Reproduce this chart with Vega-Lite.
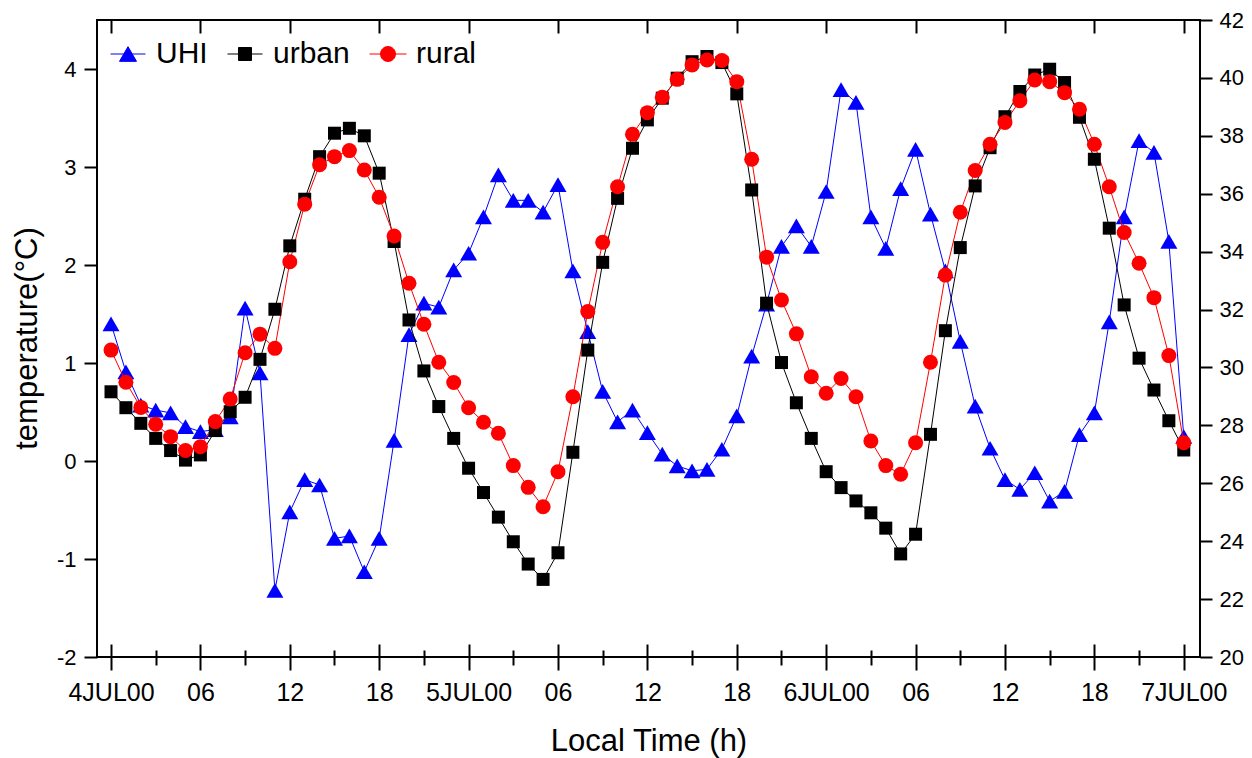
{
  "$schema": "https://vega.github.io/schema/vega-lite/v6.json",
  "width": 1103,
  "height": 637,
  "autosize": {"type": "none"},
  "padding": {"left": 97, "top": 20, "right": 52, "bottom": 101},
  "background": "white",
  "config": {
    "view": {"stroke": "black", "strokeWidth": 2},
    "font": "Liberation Sans",
    "axis": {"grid": false, "domain": false, "tickColor": "black", "tickWidth": 2, "labelColor": "black", "titleColor": "black", "titleFontWeight": "normal", "labelFont": "Liberation Sans", "titleFont": "Liberation Sans"}
  },
  "datasets": {"d": [
    {"h":0,"UHI":1.40,"urban":29.16,"rural":30.60},
    {"h":1,"UHI":0.91,"urban":28.61,"rural":29.49},
    {"h":2,"UHI":0.57,"urban":28.07,"rural":28.62},
    {"h":3,"UHI":0.52,"urban":27.55,"rural":28.04},
    {"h":4,"UHI":0.49,"urban":27.13,"rural":27.61},
    {"h":5,"UHI":0.35,"urban":26.80,"rural":27.13},
    {"h":6,"UHI":0.30,"urban":26.98,"rural":27.26},
    {"h":7,"UHI":0.32,"urban":27.82,"rural":28.13},
    {"h":8,"UHI":0.45,"urban":28.47,"rural":28.91},
    {"h":9,"UHI":1.56,"urban":28.97,"rural":30.51},
    {"h":10,"UHI":0.90,"urban":30.28,"rural":31.15},
    {"h":11,"UHI":-1.32,"urban":32.01,"rural":30.66},
    {"h":12,"UHI":-0.52,"urban":34.20,"rural":33.65},
    {"h":13,"UHI":-0.19,"urban":35.81,"rural":35.64},
    {"h":14,"UHI":-0.245,"urban":37.28,"rural":37.00},
    {"h":15,"UHI":-0.79,"urban":38.09,"rural":37.28},
    {"h":16,"UHI":-0.765,"urban":38.26,"rural":37.49},
    {"h":17,"UHI":-1.13,"urban":38.00,"rural":36.82},
    {"h":18,"UHI":-0.79,"urban":36.71,"rural":35.88},
    {"h":19,"UHI":0.21,"urban":34.35,"rural":34.54},
    {"h":20,"UHI":1.29,"urban":31.64,"rural":32.91},
    {"h":21,"UHI":1.61,"urban":29.88,"rural":31.49},
    {"h":22,"UHI":1.57,"urban":28.65,"rural":30.18},
    {"h":23,"UHI":1.95,"urban":27.55,"rural":29.48},
    {"h":24,"UHI":2.12,"urban":26.52,"rural":28.61},
    {"h":25,"UHI":2.49,"urban":25.68,"rural":28.11},
    {"h":26,"UHI":2.92,"urban":24.83,"rural":27.73},
    {"h":27,"UHI":2.66,"urban":23.98,"rural":26.61},
    {"h":28,"UHI":2.66,"urban":23.21,"rural":25.86},
    {"h":29,"UHI":2.54,"urban":22.68,"rural":25.19},
    {"h":30,"UHI":2.82,"urban":23.60,"rural":26.40},
    {"h":31,"UHI":1.94,"urban":27.07,"rural":28.99},
    {"h":32,"UHI":1.32,"urban":30.60,"rural":31.93},
    {"h":33,"UHI":0.71,"urban":33.63,"rural":34.32},
    {"h":34,"UHI":0.40,"urban":35.84,"rural":36.24},
    {"h":35,"UHI":0.52,"urban":37.57,"rural":38.05},
    {"h":36,"UHI":0.29,"urban":38.55,"rural":38.80},
    {"h":37,"UHI":0.07,"urban":39.30,"rural":39.33},
    {"h":38,"UHI":-0.05,"urban":39.99,"rural":39.95},
    {"h":39,"UHI":-0.10,"urban":40.56,"rural":40.45},
    {"h":40,"UHI":-0.085,"urban":40.74,"rural":40.62},
    {"h":41,"UHI":0.12,"urban":40.53,"rural":40.60},
    {"h":42,"UHI":0.46,"urban":39.45,"rural":39.87},
    {"h":43,"UHI":1.07,"urban":36.13,"rural":37.19},
    {"h":44,"UHI":1.60,"urban":32.22,"rural":33.81},
    {"h":45,"UHI":2.19,"urban":30.17,"rural":32.33},
    {"h":46,"UHI":2.40,"urban":28.78,"rural":31.16},
    {"h":47,"UHI":2.19,"urban":27.55,"rural":29.68},
    {"h":48,"UHI":2.75,"urban":26.40,"rural":29.11},
    {"h":49,"UHI":3.79,"urban":25.85,"rural":29.62},
    {"h":50,"UHI":3.66,"urban":25.39,"rural":28.99},
    {"h":51,"UHI":2.49,"urban":24.98,"rural":27.46},
    {"h":52,"UHI":2.17,"urban":24.45,"rural":26.61},
    {"h":53,"UHI":2.78,"urban":23.56,"rural":26.31},
    {"h":54,"UHI":3.18,"urban":24.24,"rural":27.40},
    {"h":55,"UHI":2.52,"urban":27.69,"rural":30.18},
    {"h":56,"UHI":1.94,"urban":31.27,"rural":33.19},
    {"h":57,"UHI":1.22,"urban":34.14,"rural":35.36},
    {"h":58,"UHI":0.56,"urban":36.27,"rural":36.80},
    {"h":59,"UHI":0.13,"urban":37.59,"rural":37.71},
    {"h":60,"UHI":-0.19,"urban":38.66,"rural":38.46},
    {"h":61,"UHI":-0.29,"urban":39.53,"rural":39.21},
    {"h":62,"UHI":-0.12,"urban":40.10,"rural":39.93},
    {"h":63,"UHI":-0.41,"urban":40.30,"rural":39.87},
    {"h":64,"UHI":-0.31,"urban":39.84,"rural":39.49},
    {"h":65,"UHI":0.27,"urban":38.64,"rural":38.92},
    {"h":66,"UHI":0.49,"urban":37.19,"rural":37.71},
    {"h":67,"UHI":1.42,"urban":34.81,"rural":36.24},
    {"h":68,"UHI":2.49,"urban":32.16,"rural":34.66},
    {"h":69,"UHI":3.27,"urban":30.32,"rural":33.60},
    {"h":70,"UHI":3.15,"urban":29.22,"rural":32.41},
    {"h":71,"UHI":2.24,"urban":28.16,"rural":30.41},
    {"h":72,"UHI":0.25,"urban":27.15,"rural":27.40}
  ]},
  "data": {"name": "d"},
  "resolve": {"scale": {"y": "independent"}},
  "layer": [
    {
      "transform": [{"fold": ["UHI", "urban", "rural"], "as": ["series", "v"]}, {"filter": "datum.h === 0"}],
      "mark": {"type": "point", "filled": true, "opacity": 0},
      "encoding": {
        "x": {"field": "h", "type": "quantitative",
          "scale": {"domain": [-0.94, 73.09], "nice": false, "zero": false},
          "axis": {
            "orient": "top",
            "values": [0,6,12,18,24,30,36,42,48,54,60,66,72],
            "labels": false, "ticks": false, "domain": false, "title": null,
            "grid": true, "gridColor": "black", "gridWidth": 2, "gridDash": [13, 2000], "gridOpacity": 1
          }},
        "y": {"field": "v", "type": "quantitative",
          "scale": {"domain": [20, 42], "nice": false, "zero": false}, "axis": null},
        "color": {"field": "series", "type": "nominal",
          "scale": {"domain": ["UHI", "urban", "rural"], "range": ["#0000ff", "#000000", "#ff0000"]},
          "legend": {
            "orient": "none", "legendX": 16, "legendY": 19, "direction": "horizontal", "gridAlign": "none",
            "title": null, "padding": 0, "labelFontSize": 30, "labelFont": "Liberation Sans", "labelColor": "black",
            "labelOffset": 13, "columnPadding": 17, "symbolSize": 100, "symbolStrokeWidth": 1, "symbolOpacity": 1
          }},
        "stroke": {"field": "series", "type": "nominal",
          "scale": {"domain": ["UHI", "urban", "rural"], "range": ["#0000ff", "#000000", "#ff0000"]},
          "legend": {
            "orient": "none", "legendX": 16, "legendY": 19, "direction": "horizontal", "gridAlign": "none",
            "title": null, "padding": 0, "labelFontSize": 30, "labelFont": "Liberation Sans", "labelColor": "black",
            "labelOffset": 13, "columnPadding": 17, "symbolSize": 100, "symbolStrokeWidth": 1, "symbolOpacity": 1
          }},
        "shape": {"field": "series", "type": "nominal",
          "scale": {"domain": ["UHI", "urban", "rural"], "range": [
            "M-3.5,0H3.5M0,-1.47L1.7,1.47L-1.7,1.47Z",
            "M-3.5,0H3.5M-1.3,-1.3H1.3V1.3H-1.3Z",
            "M-3.7,0H3.7M1.5,0A1.5,1.5,0,1,1,-1.5,0A1.5,1.5,0,1,1,1.5,0Z"
          ]},
          "legend": {
            "orient": "none", "legendX": 16, "legendY": 19, "direction": "horizontal", "gridAlign": "none",
            "title": null, "padding": 0, "labelFontSize": 30, "labelFont": "Liberation Sans", "labelColor": "black",
            "labelOffset": 13, "columnPadding": 17, "symbolSize": 100, "symbolStrokeWidth": 1, "symbolOpacity": 1
          }}
      }
    },
    {
      "transform": [{"fold": ["UHI"], "as": ["series", "v"]}],
      "mark": {"type": "line", "color": "#0000ff", "strokeWidth": 1},
      "encoding": {
        "x": {"field": "h", "type": "quantitative",
          "axis": {
            "orient": "bottom",
            "values": [0,6,12,18,24,30,36,42,48,54,60,66,72],
            "labelExpr": "datum.value % 24 === 0 ? (4 + datum.value / 24) + 'JUL00' : (((datum.value % 24) < 10 ? '0' : '') + (datum.value % 24))",
            "labelFontSize": 25,
            "labelPadding": 10,
            "labelFlush": false,
            "labelOverlap": false,
            "labelBound": false,
            "tickSize": 13,
            "title": "Local Time (h)",
            "titleFontSize": 31,
            "titleBaseline": "alphabetic",
            "titleY": 93
          }},
        "y": {"field": "v", "type": "quantitative",
          "scale": {"domain": [-2, 4.5], "nice": false, "zero": false},
          "axis": {
            "orient": "left",
            "values": [-2,-1,0,1,2,3,4],
            "labelExpr": "'' + datum.value",
            "labelFontSize": 22,
            "labelPadding": 8,
            "tickSize": 13,
            "labelFlush": false,
            "title": "temperature(°C)",
            "titleFontSize": 31,
            "titleAngle": 270,
            "titleBaseline": "alphabetic",
            "titleX": -61,
            "titleY": 318
          }}
      }
    },
    {
      "transform": [{"fold": ["UHI"], "as": ["series", "v"]}],
      "mark": {"type": "point", "shape": "triangle-up", "size": 289, "filled": true, "opacity": 1, "strokeWidth": 0},
      "encoding": {
        "x": {"field": "h", "type": "quantitative",
          "axis": {
            "orient": "top",
            "values": [0,6,12,18,24,30,36,42,48,54,60,66,72],
            "labels": false,
            "offset": -13,
            "tickSize": 13,
            "title": null
          }},
        "y": {"field": "v", "type": "quantitative",
          "scale": {"domain": [-2, 4.5], "nice": false, "zero": false}, "axis": null},
        "color": {"field": "series", "type": "nominal", "legend": null}
      }
    },
    {
      "transform": [{"fold": ["urban", "rural"], "as": ["series", "v"]}],
      "mark": {"type": "line", "strokeWidth": 1},
      "encoding": {
        "x": {"field": "h", "type": "quantitative",
          "axis": {
            "orient": "bottom",
            "values": [3,9,15,21,27,33,39,45,51,57,63,69],
            "labels": false,
            "tickSize": 8,
            "title": null
          }},
        "y": {"field": "v", "type": "quantitative",
          "scale": {"domain": [20, 42], "nice": false, "zero": false},
          "axis": {
            "orient": "right",
            "values": [20,22,24,26,28,30,32,34,36,38,40,42],
            "labelExpr": "'' + datum.value",
            "labelFontSize": 22,
            "labelPadding": 7,
            "tickSize": 12,
            "labelFlush": false,
            "title": null
          }},
        "color": {"field": "series", "type": "nominal", "legend": null}
      }
    },
    {
      "transform": [{"fold": ["urban"], "as": ["series", "v"]}],
      "mark": {"type": "point", "shape": "square", "size": 169, "filled": true, "opacity": 1, "strokeWidth": 0},
      "encoding": {
        "x": {"field": "h", "type": "quantitative",
          "axis": {
            "orient": "top",
            "values": [3,9,15,21,27,33,39,45,51,57,63,69],
            "labels": false, "ticks": false, "domain": false, "title": null,
            "grid": true, "gridColor": "black", "gridWidth": 2, "gridDash": [7, 2000], "gridOpacity": 1
          }},
        "y": {"field": "v", "type": "quantitative",
          "scale": {"domain": [20, 42], "nice": false, "zero": false}, "axis": null},
        "color": {"field": "series", "type": "nominal", "legend": null}
      }
    },
    {
      "transform": [{"fold": ["rural"], "as": ["series", "v"]}],
      "mark": {"type": "point", "shape": "circle", "size": 225, "filled": true, "opacity": 1, "strokeWidth": 0},
      "encoding": {
        "x": {"field": "h", "type": "quantitative", "axis": null},
        "y": {"field": "v", "type": "quantitative",
          "scale": {"domain": [20, 42], "nice": false, "zero": false}, "axis": null},
        "color": {"field": "series", "type": "nominal", "legend": null}
      }
    }
  ]
}
